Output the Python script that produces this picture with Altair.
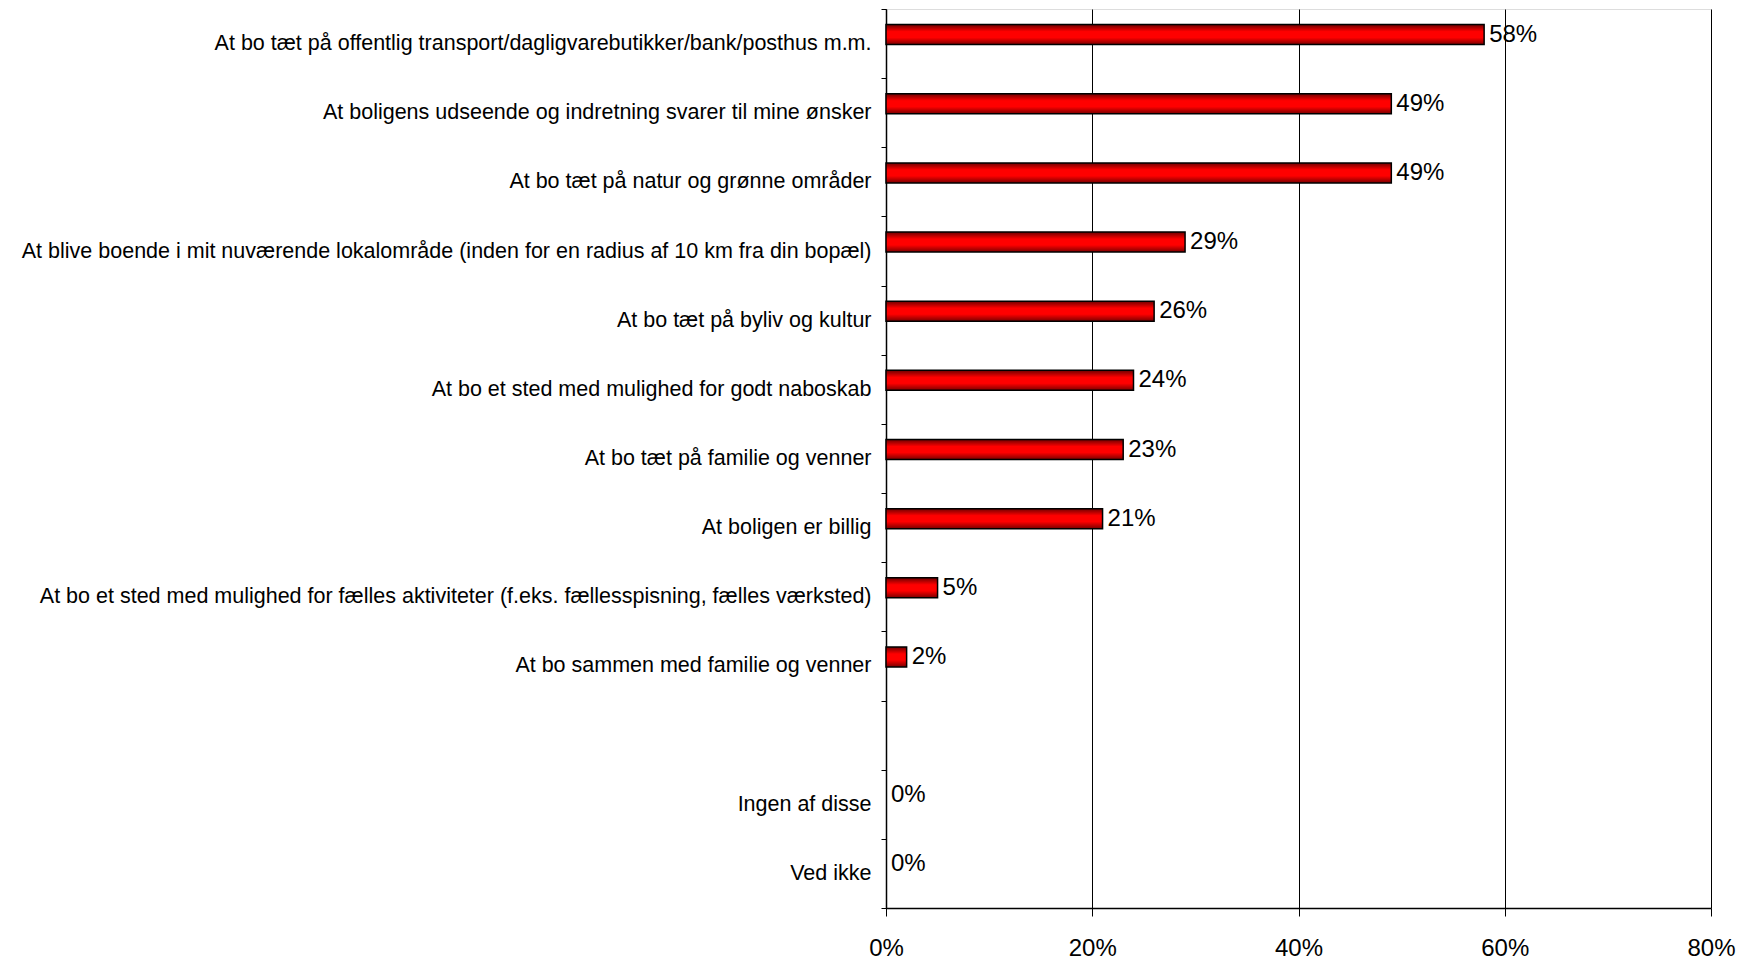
import altair as alt
import pandas as pd

categories = [
    "At bo tæt på offentlig transport/dagligvarebutikker/bank/posthus m.m.",
    "At boligens udseende og indretning svarer til mine ønsker",
    "At bo tæt på natur og grønne områder",
    "At blive boende i mit nuværende lokalområde (inden for en radius af 10 km fra din bopæl)",
    "At bo tæt på byliv og kultur",
    "At bo et sted med mulighed for godt naboskab ",
    "At bo tæt på familie og venner",
    "At boligen er billig",
    "At bo et sted med mulighed for fælles aktiviteter (f.eks. fællesspisning, fælles værksted)",
    "At bo sammen med familie og venner",
    "Ingen af disse",
    "Ved ikke",
]
values = [58, 49, 49, 29, 26, 24, 23, 21, 5, 2, 0, 0]
value_labels = ["58%", "49%", "49%", "29%", "26%", "24%", "23%", "21%", "5%", "2%", "0%", "0%"]
x_ticks = [0, 0.2, 0.4, 0.6, 0.8]

# axis order, with the empty slot between the last answer and "Ingen af disse"
domain = categories[:10] + [" "] + categories[10:]

df = pd.DataFrame({
    "kategori": categories,
    "andel": [v / 100 for v in values],
    "label": value_labels,
})

FONT = "Liberation Sans"

y_enc = alt.Y(
    "kategori:N",
    scale=alt.Scale(domain=domain, paddingInner=0, paddingOuter=0),
    sort=domain,
    axis=alt.Axis(
        title=None, labelFontSize=21.5, labelFont=FONT, labelColor="black",
        tickSize=5, tickColor="black", tickBand="extent", labelPadding=10,
        domainColor="black", domainWidth=1.5, labelLimit=2000, grid=False,
    ),
)
x_enc = alt.X(
    "andel:Q",
    scale=alt.Scale(domain=[0, 0.8], nice=False),
    axis=alt.Axis(
        title=None, values=x_ticks, format=".0%", labelFontSize=24, labelFont=FONT,
        labelColor="black", tickSize=8, tickColor="black", labelPadding=20,
        labelFlush=False,
        domainColor="black", domainWidth=1.5, grid=True, gridColor="black",
        gridWidth=1, gridOpacity=1,
    ),
)

gradient = alt.Gradient(
    gradient="linear",
    stops=[
        alt.GradientStop(color="#6e0000", offset=0),
        alt.GradientStop(color="#ff0000", offset=0.35),
        alt.GradientStop(color="#ff0000", offset=0.65),
        alt.GradientStop(color="#7a0000", offset=1),
    ],
    x1=0, x2=0, y1=0, y2=1,
)

bars = alt.Chart(df).transform_filter(alt.datum.andel > 0).mark_bar(
    size=20, yOffset=-9, color=gradient, stroke="black", strokeWidth=1.5
).encode(y=y_enc, x=x_enc)

text = alt.Chart(df).mark_text(
    align="left", baseline="middle", dx=5, yOffset=-9, fontSize=24, font=FONT, color="black"
).encode(y=alt.Y("kategori:N", sort=domain), x="andel:Q", text="label:N")

chart = (bars + text).properties(
    width=825, height=899,
    autosize=alt.AutoSizeParams(type="none"),
    padding={"left": 878, "top": 1, "right": 26, "bottom": 53},
).configure_view(stroke="#666666", strokeWidth=1).configure(background="white")

chart.save("out.html", embed_options={"renderer": "svg", "actions": False})
